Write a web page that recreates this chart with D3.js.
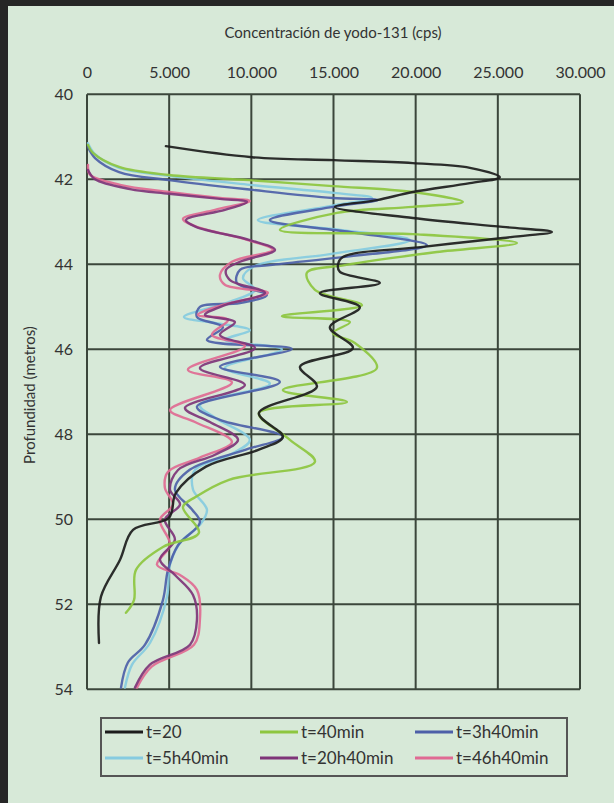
<!DOCTYPE html>
<html><head><meta charset="utf-8">
<script src="https://cdn.jsdelivr.net/npm/d3@7/dist/d3.min.js"></script>
<style>
html,body{margin:0;padding:0;background:#d7e9d8;}
svg{display:block;}
text{font-family:Lato,"Open Sans",sans-serif;fill:#333;}
</style></head>
<body>
<svg id="chart" width="614" height="803"></svg>
<script>
// ---------- data ----------
const xTicks = [0, 5000, 10000, 15000, 20000, 25000, 30000];
const yTicks = [40, 42, 44, 46, 48, 50, 52, 54];
const seriesNames = ["t=20", "t=40min", "t=3h40min", "t=5h40min", "t=20h40min", "t=46h40min"];

const t20Depth = [41.22,41.48,41.55,41.62,41.73,41.95,42.09,42.30,42.49,42.65,42.91,43.12,43.24,43.38,43.59,43.83,44.02,44.18,44.44,44.68,45.01,45.48,45.97,46.41,46.88,47.50,48.06,48.36,48.76,49.38,49.96,50.25,50.95,51.82,52.91];
const t20Value = [4800,10040,15020,19830,23300,25120,23300,19830,17640,15090,19830,25300,28290,25300,20440,15570,15270,15390,17820,14170,16600,14780,16180,12960,13990,10460,11920,10460,7240,5410,4990,2800,2010,850,730];

const t40Depth = [41.19,41.38,41.71,41.90,42.02,42.16,42.30,42.53,42.65,42.79,43.19,43.29,43.50,43.71,44.02,44.20,44.60,44.96,45.22,45.36,45.62,45.85,46.44,46.96,47.24,47.50,48.13,48.65,49.07,49.47,49.71,50.32,50.65,51.19,51.90,52.20];
const t40Value = [60,360,1950,4990,9850,14960,19830,22870,19830,15210,11740,19830,26160,21290,15690,13380,13870,16730,11860,16000,14960,16300,17640,11920,15820,10460,12350,13870,8640,6630,5840,6810,4620,2980,2860,2370];

const t3h40Depth = [41.24,41.50,41.83,42.02,42.25,42.44,42.49,42.65,42.96,43.24,43.55,43.83,44.02,44.13,44.44,44.72,44.91,45.00,45.24,45.48,45.78,45.99,46.41,46.77,47.35,47.66,48.06,48.36,48.83,49.30,49.77,50.07,50.61,51.19,51.90,52.95,53.37,53.96];
const t3h40Value = [60,490,1950,4990,10100,14960,17700,14960,11130,16000,20680,15570,11130,9310,9120,10950,9310,6870,6690,8270,7300,12470,8090,11740,6690,8090,11920,9670,6270,5350,6390,6870,5540,4930,4620,3530,2490,2070];

const t5h40Depth = [41.15,41.41,41.73,41.92,42.13,42.32,42.44,42.63,42.96,43.19,43.43,43.76,44.04,44.32,44.60,44.88,45.24,45.38,45.55,45.78,46.00,46.44,46.81,47.31,47.61,48.13,48.48,48.84,49.30,49.78,50.13,50.55,51.07,51.82,52.91,53.42,53.96];
const t5h40Value = [60,490,1950,4990,9910,15020,17340,14780,10400,15390,19650,14780,10220,9490,10220,8700,5900,7790,9910,8390,11860,8390,11130,6870,7790,9910,8700,6570,6450,7300,6870,5660,5050,4870,3830,2740,2310];

const t20h40Depth = [41.78,42.00,42.23,42.34,42.46,42.53,42.72,42.96,43.12,43.43,43.66,43.94,44.13,44.37,44.67,44.96,45.19,45.36,45.66,45.97,46.44,46.84,47.38,47.71,48.13,48.48,48.84,49.30,49.65,50.01,50.48,50.95,51.31,51.78,52.37,52.95,53.42,53.96];
const t20h40Value = [60,490,2620,4990,8090,9730,8390,6020,6630,9910,11440,9310,8460,8700,10830,8390,7180,9000,8090,10220,6870,9610,5960,7480,9190,7790,5540,5050,5660,4740,5350,4440,5350,6450,6690,6270,3830,2920];

const t46h40Depth = [41.66,41.89,42.13,42.30,42.44,42.51,42.72,42.93,43.10,43.43,43.66,43.94,44.25,44.48,44.67,44.96,45.19,45.31,45.66,45.92,46.48,46.78,47.43,47.71,48.18,48.55,48.88,49.26,49.65,50.01,50.60,51.07,51.31,51.66,52.37,52.95,53.46,53.96];
const t46h40Value = [60,180,2010,4990,8090,9910,7790,5840,6570,9790,11310,8820,8090,8390,11010,8210,6750,8580,7600,9610,6140,8820,5050,6570,8820,6870,4930,4740,5230,4440,5050,4260,5660,6690,6870,6510,3950,3040];

const seriesColors = ["#1c1c1c", "#8dc63f", "#4d5fa8", "#86cbe0", "#7e3478", "#e06a93"];

// ---------- layout ----------
const svg = d3.select("#chart");
const W = 614, H = 803;
const plot = {left: 87, right: 580, top: 94.3, bottom: 689.3};

svg.append("rect").attr("x", 0).attr("y", 0).attr("width", W).attr("height", H).attr("fill", "#d7e9d8");
// dark frame top/left
svg.append("rect").attr("x", 0).attr("y", 0).attr("width", W).attr("height", 6).attr("fill", "#262626");
svg.append("rect").attr("x", 0).attr("y", 0).attr("width", 8).attr("height", H).attr("fill", "#262626");

const x = d3.scaleLinear().domain([0, 30000]).range([plot.left, plot.right]);
const y = d3.scaleLinear().domain([40, 54]).range([plot.top, plot.bottom]);

const fmt = d => d === 0 ? "0" : d3.format(",")(d).replace(/,/g, ".");

// grid
const grid = svg.append("g");
grid.selectAll("line.v").data(xTicks).enter().append("line")
  .attr("x1", d => x(d)).attr("x2", d => x(d)).attr("y1", plot.top).attr("y2", plot.bottom)
  .attr("stroke", "#3b463b").attr("stroke-width", 2);
grid.selectAll("line.h").data(yTicks).enter().append("line")
  .attr("x1", plot.left).attr("x2", plot.right).attr("y1", d => y(d)).attr("y2", d => y(d))
  .attr("stroke", "#3b463b").attr("stroke-width", 2);

// top axis labels
const xAxis = d3.axisTop(x).tickValues(xTicks).tickFormat(fmt).tickSize(0).tickPadding(0);
const gx = svg.append("g").attr("transform", `translate(0,${plot.top - 16})`).call(xAxis);
gx.select(".domain").remove();
gx.selectAll("text").attr("font-size", 16).attr("fill", "#333").attr("font-family", "Lato, sans-serif");

const yAxis = d3.axisLeft(y).tickValues(yTicks).tickFormat(d3.format("d")).tickSize(0).tickPadding(0);
const gy = svg.append("g").attr("transform", `translate(${plot.left - 14},0)`).call(yAxis);
gy.select(".domain").remove();
gy.selectAll("text").attr("font-size", 16).attr("fill", "#333").attr("font-family", "Lato, sans-serif");

// titles
svg.append("text").attr("x", 333).attr("y", 38).attr("text-anchor", "middle")
  .attr("font-size", 15).text("Concentración de yodo-131 (cps)");
svg.append("text").attr("transform", "translate(35,395) rotate(-90)").attr("text-anchor", "middle")
  .attr("font-size", 15).text("Profundidad (metros)");

// series
const allSeries = [
  {name: seriesNames[0], depth: t20Depth, value: t20Value, color: seriesColors[0]},
  {name: seriesNames[1], depth: t40Depth, value: t40Value, color: seriesColors[1]},
  {name: seriesNames[2], depth: t3h40Depth, value: t3h40Value, color: seriesColors[2]},
  {name: seriesNames[3], depth: t5h40Depth, value: t5h40Value, color: seriesColors[3]},
  {name: seriesNames[4], depth: t20h40Depth, value: t20h40Value, color: seriesColors[4]},
  {name: seriesNames[5], depth: t46h40Depth, value: t46h40Value, color: seriesColors[5]}
];
const line = d3.line().x(p => x(p[0])).y(p => y(p[1])).curve(d3.curveCatmullRom.alpha(0.5));
const drawOrder = [3, 2, 5, 4, 1, 0];
const lines = svg.append("g");
drawOrder.forEach(i => {
  const s = allSeries[i];
  const pts = s.value.map((v, k) => [v, s.depth[k]]);
  lines.append("path").attr("d", line(pts)).attr("fill", "none")
    .attr("stroke", s.color).attr("stroke-width", 2.4).attr("stroke-linejoin", "round")
    .attr("stroke-linecap", "round").attr("opacity", 0.92);
});

// legend
const lg = svg.append("g");
lg.append("rect").attr("x", 101).attr("y", 718).attr("width", 466).attr("height", 58)
  .attr("fill", "none").attr("stroke", "#555").attr("stroke-width", 2);
const colX = [105, 260, 415];
const rowY = [732, 758];
allSeries.forEach((s, i) => {
  const cx = colX[i % 3], cy = rowY[Math.floor(i / 3)];
  lg.append("line").attr("x1", cx).attr("x2", cx + 38).attr("y1", cy).attr("y2", cy)
    .attr("stroke", s.color).attr("stroke-width", 3);
  lg.append("text").attr("x", cx + 41).attr("y", cy + 6).attr("font-size", 17).text(s.name);
});
</script>
</body></html>
